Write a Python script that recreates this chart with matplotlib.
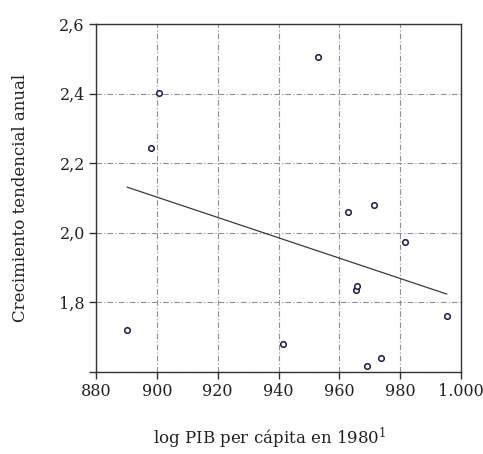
import matplotlib as mpl
mpl.use("Agg")
import matplotlib.pyplot as plt
from matplotlib.ticker import FuncFormatter

# log PIB per capita 1980 vs crecimiento tendencial anual
pib_1980 = [890.3, 898.1, 900.7, 953.0, 941.4, 962.8, 971.3, 981.6, 965.4, 965.9, 995.3, 969.1, 973.7]
crecimiento = [1.720, 2.243, 2.403, 2.504, 1.681, 2.061, 2.080, 1.975, 1.837, 1.848, 1.761, 1.618, 1.639]

# fitted line endpoints
fit_x = [890.3, 995.3]
fit_y = [2.131, 1.824]

x_ticks = [880, 900, 920, 940, 960, 980, 1000]
y_ticks = [1.6, 1.8, 2.0, 2.2, 2.4, 2.6]

plt.rcParams['font.family'] = ['DejaVu Serif']
plt.rcParams['mathtext.fontset'] = 'dejavuserif'

fig = plt.figure(figsize=(4.83, 4.54), dpi=100)
ax = fig.add_axes([96/483, 1-372/454, (461-96)/483, (372-24)/454])

ax.grid(True, color='#8e8e98', linestyle=(0, (5, 2, 1, 2)), linewidth=0.8)
ax.set_axisbelow(True)

ax.plot(fit_x, fit_y, color='#3a3a3a', linewidth=0.9)
ax.plot(pib_1980, crecimiento, linestyle='none', marker='o', markersize=4,
        markerfacecolor='white', markeredgecolor='#1c1c3a', markeredgewidth=1.1)

ax.set_xlim(880, 1000)
ax.set_ylim(1.6, 2.6)
ax.set_xticks(x_ticks)
ax.set_yticks(y_ticks)

def fmt_x(v, pos):
    v = int(round(v))
    return '{:,}'.format(v).replace(',', '.')

def fmt_y(v, pos):
    if abs(v - 1.6) < 1e-6:
        return ''
    return '{:.1f}'.format(v).replace('.', ',')

ax.xaxis.set_major_formatter(FuncFormatter(fmt_x))
ax.yaxis.set_major_formatter(FuncFormatter(fmt_y))

for s in ax.spines.values():
    s.set_color('#333333')
    s.set_linewidth(1.0)
ax.tick_params(axis='both', length=5, width=1.0, color='#333333', labelsize=11.5,
               labelcolor='#222222', pad=3)

ax.set_xlabel('log PIB per cápita en 1980$^{1}$', fontsize=12, color='#222222', labelpad=16)
ax.xaxis.set_label_coords(0.475, -0.155)
ax.set_ylabel('Crecimiento tendencial anual', fontsize=12, color='#222222', labelpad=22)

fig.savefig('out.png', dpi=100)
